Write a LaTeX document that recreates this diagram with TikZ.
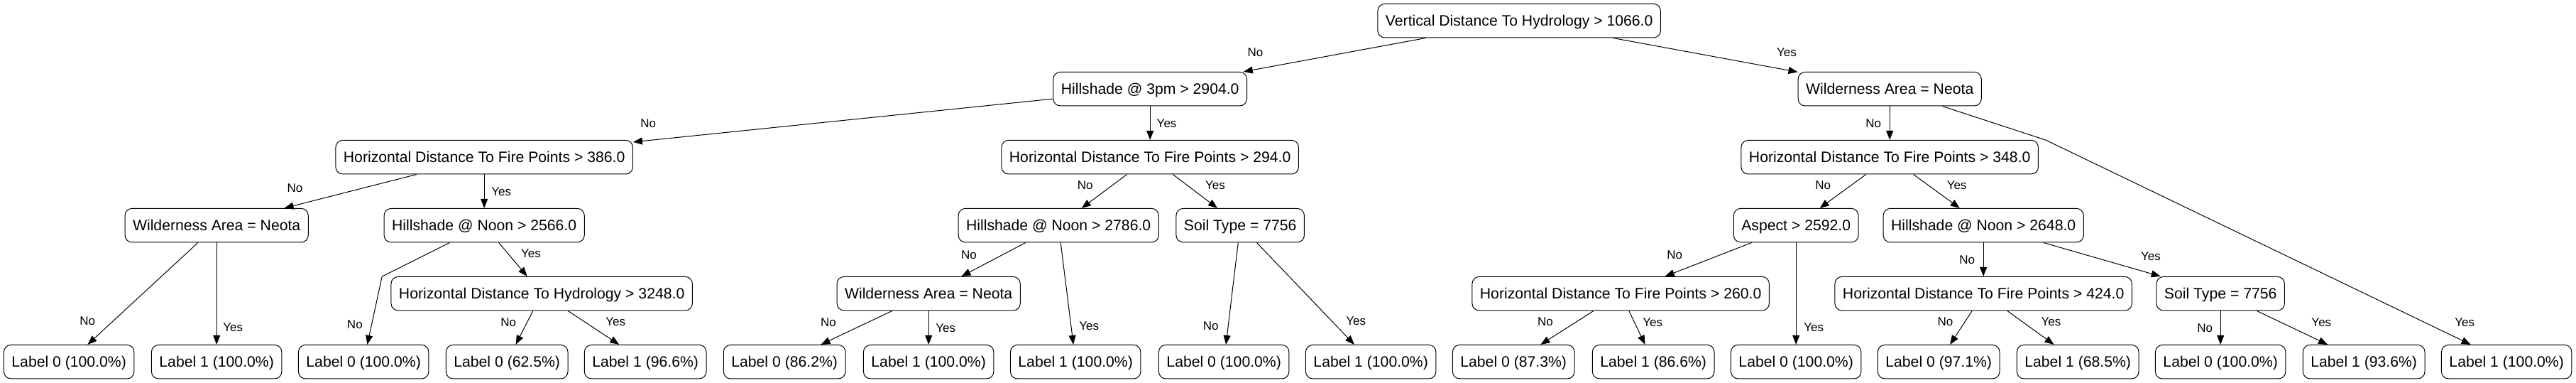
\documentclass[tikz,border=0pt]{standalone}
\usepackage{fontspec}
\setmainfont{Liberation Sans}
\usetikzlibrary{shapes.geometric, arrows.meta}
\tikzstyle{split} = [rectangle, rounded corners=5pt, minimum height=23.8pt, inner xsep=5.5pt, inner ysep=0pt, text height=7.6pt, text depth=0pt, draw=black, line width=0.5pt, font=\fontsize{10.6pt}{12pt}\selectfont]
\tikzstyle{leaf} = [split]
\tikzstyle{lbl} = [inner sep=0pt, text height=6.1pt, text depth=0pt, font=\fontsize{8.5pt}{10pt}\selectfont]
\tikzstyle{arrow} = [line width=0.5pt, -{Triangle[length=6.5pt,width=5pt]}]
\begin{document}
\begin{tikzpicture}[node distance=48pt]
    \useasboundingbox (-1070.1pt,-254.9pt) rectangle (744.4pt,14.6pt);
    \node (root) [split] {Vertical Distance To Hydrology > 1066.0};
    \node (hs3pm) [split, below of=root, xshift=-260pt] {Hillshade @ 3pm > 2904.0};
    \draw [arrow] (root) -- node[lbl, pos=0.935, yshift=12.2pt] (n1) {No} (hs3pm);
    \node (wildR) [split, below of=root, xshift=261pt] {Wilderness Area = Neota};
    \draw [arrow] (root) -- node[lbl, pos=0.94, yshift=12.4pt] (y1) {Yes} (wildR);
    \node (fire386) [split, below of=hs3pm, xshift=-469pt] {Horizontal Distance To Fire Points > 386.0};
    \draw [arrow] (hs3pm) -- node[lbl, pos=0.964, yshift=12.1pt] (n2) {No} (fire386);
    \node (fire294) [split, below of=hs3pm] {Horizontal Distance To Fire Points > 294.0};
    \draw [arrow] (hs3pm) -- node[lbl, pos=0.5, xshift=11.7pt] (y2) {Yes} (fire294);
    \node (fire348) [split, below of=wildR] {Horizontal Distance To Fire Points > 348.0};
    \draw [arrow] (wildR) -- node[lbl, pos=0.5, xshift=-11.5pt] (n3) {No} (fire348);
    \node (wildL) [split, below of=fire386, xshift=-188.5pt] {Wilderness Area = Neota};
    \draw [arrow] (fire386) -- node[lbl, pos=0.92, yshift=12.35pt] (n4) {No} (wildL);
    \node (noon2566) [split, below of=fire386] {Hillshade @ Noon > 2566.0};
    \draw [arrow] (fire386) -- node[lbl, pos=0.5, xshift=12pt] (y4) {Yes} (noon2566);
    \node (noon2786) [split, below of=fire294, xshift=-64.5pt] {Hillshade @ Noon > 2786.0};
    \draw [arrow] (fire294) -- node[lbl, pos=0.319, xshift=-19.3pt] (n5) {No} (noon2786);
    \node (soilM) [split, below of=fire294, xshift=63.5pt] {Soil Type = 7756};
    \draw [arrow] (fire294) -- node[lbl, pos=0.319, xshift=19.8pt] (y5) {Yes} (soilM);
    \node (aspect) [split, below of=fire348, xshift=-66pt] {Aspect > 2592.0};
    \draw [arrow] (fire348) -- node[lbl, pos=0.319, xshift=-19.9pt] (n6) {No} (aspect);
    \node (noon2648) [split, below of=fire348, xshift=66pt] {Hillshade @ Noon > 2648.0};
    \draw [arrow] (fire348) -- node[lbl, pos=0.319, xshift=20.1pt] (y6) {Yes} (noon2648);
    \node (hydro3248) [split, below of=noon2566, xshift=40.5pt] {Horizontal Distance To Hydrology > 3248.0};
    \draw [arrow] (noon2566) -- node[lbl, pos=0.306, xshift=16.5pt] (y7) {Yes} (hydro3248);
    \node (wildM) [split, below of=noon2786, xshift=-91.5pt] {Wilderness Area = Neota};
    \draw [arrow] (noon2786) -- node[lbl, pos=0.884, yshift=12.7pt] (n8) {No} (wildM);
    \node (fire260) [split, below of=aspect, xshift=-123.5pt] {Horizontal Distance To Fire Points > 260.0};
    \draw [arrow] (aspect) -- node[lbl, pos=0.889, yshift=12.8pt] (n9) {No} (fire260);
    \node (fire424) [split, below of=noon2648] {Horizontal Distance To Fire Points > 424.0};
    \draw [arrow] (noon2648) -- node[lbl, pos=0.5, xshift=-11.5pt] (n10) {No} (fire424);
    \node (soilR) [split, below of=noon2648, xshift=167pt] {Soil Type = 7756};
    \draw [arrow] (noon2648) -- node[lbl, pos=0.917, yshift=12.5pt] (y10) {Yes} (soilR);
    \node (leaf1) [leaf, below of=wildL, yshift=-48pt, xshift=-104pt] {Label 0 (100.0\%)};
    \draw [arrow] (wildL) -- node[lbl, pos=0.766, xshift=-18.25pt] (n11) {No} (leaf1);
    \node (leaf2) [leaf, below of=wildL, yshift=-48pt] {Label 1 (100.0\%)};
    \draw [arrow] (wildL) -- node[lbl, pos=0.83, xshift=11.5pt] (y11) {Yes} (leaf2);
    \node (leaf3) [leaf, below of=hydro3248, xshift=-125.5pt] {Label 0 (100.0\%)};
    \coordinate (bend1) at ([xshift=-72pt, yshift=-36pt]noon2566.center);
    \draw [arrow] (noon2566) -- (bend1) -- node[lbl, pos=0.70, xshift=-11.9pt] (n7) {No} (leaf3);
    \node (leaf4) [leaf, below of=hydro3248, xshift=-24.5pt] {Label 0 (62.5\%)};
    \draw [arrow] (hydro3248) -- node[lbl, pos=0.333, xshift=-13.3pt] (n12) {No} (leaf4);
    \node (leaf5) [leaf, below of=hydro3248, xshift=73pt] {Label 1 (96.6\%)};
    \draw [arrow] (hydro3248) -- node[lbl, pos=0.3125, xshift=22.3pt] (y12) {Yes} (leaf5);
    \node (leaf6) [leaf, below of=wildM, xshift=-101.5pt] {Label 0 (86.2\%)};
    \draw [arrow] (wildM) -- node[lbl, pos=0.333, xshift=-28.2pt] (n13) {No} (leaf6);
    \node (leaf7) [leaf, below of=wildM] {Label 1 (100.0\%)};
    \draw [arrow] (wildM) -- node[lbl, pos=0.5, xshift=12pt] (y13) {Yes} (leaf7);
    \node (leaf8) [leaf, below of=wildM, xshift=103.5pt] {Label 1 (100.0\%)};
    \draw [arrow] (noon2786) -- node[lbl, pos=0.814, xshift=12.7pt] (y8) {Yes} (leaf8);
    \node (leaf9) [leaf, below of=soilM, yshift=-48pt, xshift=-11.5pt] {Label 0 (100.0\%)};
    \draw [arrow] (soilM) -- node[lbl, pos=0.814, xshift=-12.3pt] (n14) {No} (leaf9);
    \node (leaf10) [leaf, below of=soilM, yshift=-48pt, xshift=92pt] {Label 1 (100.0\%)};
    \draw [arrow] (soilM) -- node[lbl, pos=0.766, xshift=17.2pt] (y14) {Yes} (leaf10);
    \node (leaf11) [leaf, below of=fire260, xshift=-75.5pt] {Label 0 (87.3\%)};
    \draw [arrow] (fire260) -- node[lbl, pos=0.3125, xshift=-22.4pt] (n15) {No} (leaf11);
    \node (leaf12) [leaf, below of=fire260, xshift=23pt] {Label 1 (86.6\%)};
    \draw [arrow] (fire260) -- node[lbl, pos=0.333, xshift=12.9pt] (y15) {Yes} (leaf12);
    \node (leaf13) [leaf, below of=aspect, yshift=-48pt] {Label 0 (100.0\%)};
    \draw [arrow] (aspect) -- node[lbl, pos=0.83, xshift=12.5pt] (y9) {Yes} (leaf13);
    \node (leaf14) [leaf, below of=fire424, xshift=-31.5pt] {Label 0 (97.1\%)};
    \draw [arrow] (fire424) -- node[lbl, pos=0.3125, xshift=-14pt] (n16) {No} (leaf14);
    \node (leaf15) [leaf, below of=fire424, xshift=66.5pt] {Label 1 (68.5\%)};
    \draw [arrow] (fire424) -- node[lbl, pos=0.3125, xshift=20.5pt] (y16) {Yes} (leaf15);
    \node (leaf16) [leaf, below of=soilR] {Label 0 (100.0\%)};
    \draw [arrow] (soilR) -- node[lbl, pos=0.5, xshift=-11pt] (n17) {No} (leaf16);
    \node (leaf17) [leaf, below of=soilR, xshift=101pt] {Label 1 (93.6\%)};
    \draw [arrow] (soilR) -- node[lbl, pos=0.333, xshift=28.9pt] (y17) {Yes} (leaf17);
    \node (leaf18) [leaf, below of=soilR, xshift=201.5pt] {Label 1 (100.0\%)};
    \coordinate (bend2) at ([xshift=110pt, yshift=-36pt]wildR.center);
    \draw [arrow] (wildR) -- (bend2) -- node[lbl, pos=0.889, xshift=29pt] (y3) {Yes} (leaf18);
\end{tikzpicture}
\end{document}
